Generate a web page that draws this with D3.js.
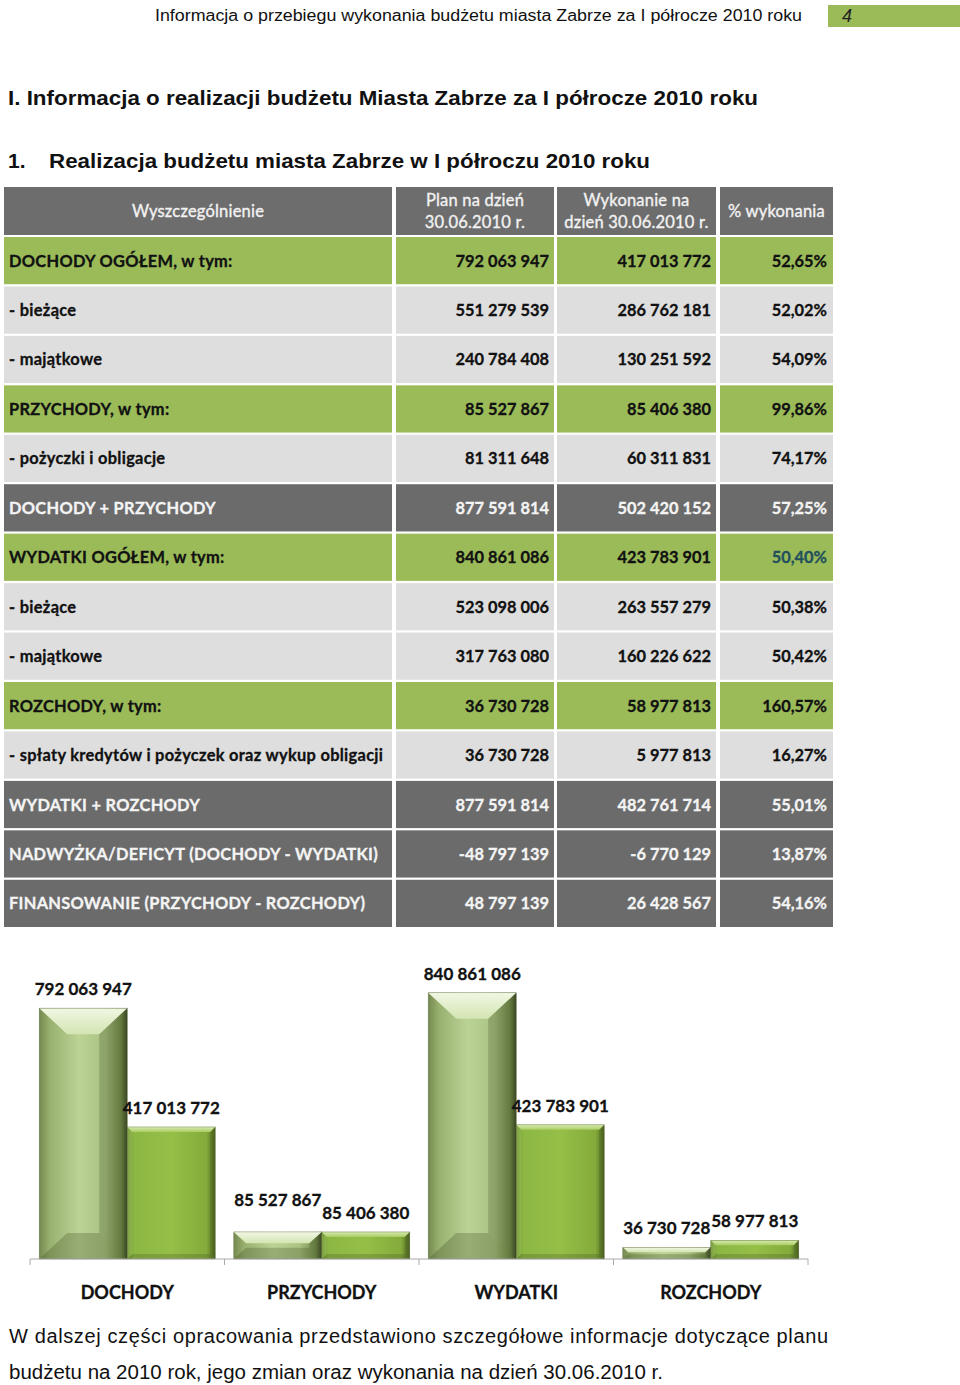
<!DOCTYPE html>
<html><head><meta charset="utf-8">
<script src="https://cdn.jsdelivr.net/npm/d3@7"></script>
<style>
html,body{margin:0;padding:0;background:#fff;}
svg{display:block;}
</style></head>
<body>
<svg id="page" width="960" height="1385"></svg>
<script>
// ---------- DATA ----------
const headerTitle = "Informacja o przebiegu wykonania budżetu miasta Zabrze za I półrocze 2010 roku";
const pageNumber = "4";
const title1 = "I. Informacja o realizacji budżetu Miasta Zabrze za I półrocze 2010 roku";
const title2Num = "1.";
const title2 = "Realizacja budżetu miasta Zabrze w I półroczu 2010 roku";
const columnHeaders = [["Wyszczególnienie"], ["Plan na dzień", "30.06.2010 r."], ["Wykonanie na", "dzień 30.06.2010 r."], ["% wykonania"]];
const rowLabels = [
  "DOCHODY OGÓŁEM, w tym:", "- bieżące", "- majątkowe", "PRZYCHODY, w tym:", "- pożyczki i obligacje",
  "DOCHODY + PRZYCHODY", "WYDATKI OGÓŁEM, w tym:", "- bieżące", "- majątkowe", "ROZCHODY, w tym:",
  "- spłaty kredytów i pożyczek oraz wykup obligacji", "WYDATKI + ROZCHODY",
  "NADWYŻKA/DEFICYT (DOCHODY - WYDATKI)", "FINANSOWANIE (PRZYCHODY - ROZCHODY)"
];
const rowKinds = ["total","sub","sub","total","sub","sum","total","sub","sub","total","sub","sum","sum","sum"];
const planColumn = [792063947, 551279539, 240784408, 85527867, 81311648, 877591814, 840861086, 523098006, 317763080, 36730728, 36730728, 877591814, -48797139, 48797139];
const execColumn = [417013772, 286762181, 130251592, 85406380, 60311831, 502420152, 423783901, 263557279, 160226622, 58977813, 5977813, 482761714, -6770129, 26428567];
const pctColumn = [52.65, 52.02, 54.09, 99.86, 74.17, 57.25, 50.40, 50.38, 50.42, 160.57, 16.27, 55.01, 13.87, 54.16];

const categories = ["DOCHODY", "PRZYCHODY", "WYDATKI", "ROZCHODY"];
const seriesNames = ["plan", "exec"];
const planSeries = [792063947, 85527867, 840861086, 36730728];
const execSeries = [417013772, 85406380, 423783901, 58977813];

const footerLine1 = "W dalszej części opracowania przedstawiono szczegółowe informacje dotyczące planu";
const footerLine2 = "budżetu na 2010 rok, jego zmian oraz wykonania na dzień 30.06.2010 r.";

// ---------- STYLE ----------
const GREEN = "#9bbb59", LIGHT = "#dedede", DARK = "#6b6b6b", HEAD = "#6d6d6d";
const narrow = "'Liberation Sans Narrow','Liberation Sans',Arial,sans-serif";
const cal = "Lato,'Open Sans',sans-serif";

const locale = d3.formatLocale({decimal: ",", thousands: " ", grouping: [3], currency: ["", ""], minus: "-"});
const fmtInt = locale.format(",d");
const fmtPct = v => locale.format(",.2f")(v) + "%";

const svg = d3.select("#page");
const defs = svg.append("defs");

// ---------- PAGE HEADER ----------
svg.append("text").attr("x", 155).attr("y", 21).attr("font-family", narrow).attr("font-size", 16)
  .attr("textLength", 647).attr("lengthAdjust", "spacingAndGlyphs").attr("fill", "#111").text(headerTitle);
svg.append("rect").attr("x", 828).attr("y", 5).attr("width", 132).attr("height", 22).attr("fill", GREEN);
svg.append("text").attr("x", 842).attr("y", 22).attr("font-family", narrow).attr("font-size", 18)
  .attr("font-style", "italic").attr("fill", "#222").text(pageNumber);

svg.append("text").attr("x", 8).attr("y", 105).attr("font-family", narrow).attr("font-size", 21).attr("font-weight", "bold")
  .attr("textLength", 750).attr("lengthAdjust", "spacingAndGlyphs").attr("fill", "#111").text(title1);
svg.append("text").attr("x", 8).attr("y", 168).attr("font-family", narrow).attr("font-size", 21).attr("font-weight", "bold")
  .attr("fill", "#111").text(title2Num);
svg.append("text").attr("x", 49).attr("y", 168).attr("font-family", narrow).attr("font-size", 21).attr("font-weight", "bold")
  .attr("textLength", 601).attr("lengthAdjust", "spacingAndGlyphs").attr("fill", "#111").text(title2);

// ---------- TABLE ----------
const colX = [[4, 392], [396, 554], [557, 716], [720, 833]];
const rowScale = d3.scaleBand().domain(d3.range(rowLabels.length)).range([237, 927]).paddingInner(0.045).paddingOuter(0);
const table = svg.append("g");

// header row
const headTop = 187, headH = 48;
colX.forEach((c, i) => {
  table.append("rect").attr("x", c[0]).attr("y", headTop).attr("width", c[1] - c[0]).attr("height", headH).attr("fill", HEAD);
  const lines = columnHeaders[i];
  const cx = (c[0] + c[1]) / 2;
  lines.forEach((ln, j) => {
    const y = lines.length === 1 ? headTop + headH / 2 + 6 : headTop + 19 + j * 22;
    table.append("text").attr("x", cx).attr("y", y).attr("text-anchor", "middle")
      .attr("font-family", cal).attr("font-size", 16.5).attr("fill", "#f2f2f2").attr("letter-spacing", 0.2)
      .attr("stroke", "#f2f2f2").attr("stroke-width", 0.35).text(ln);
  });
});

const bgFor = k => k === "total" ? GREEN : (k === "sub" ? LIGHT : DARK);
const fgFor = k => k === "sum" ? "#f4f4f4" : "#111";

rowLabels.forEach((lab, i) => {
  const y0 = rowScale(i), h = rowScale.bandwidth(), k = rowKinds[i];
  colX.forEach(c => {
    table.append("rect").attr("x", c[0]).attr("y", y0).attr("width", c[1] - c[0]).attr("height", h).attr("fill", bgFor(k));
  });
  const ty = y0 + h / 2 + 6;
  const t = (x, anchor, txt, color, ls) => table.append("text").attr("x", x).attr("y", ty).attr("text-anchor", anchor)
    .attr("font-family", cal).attr("font-size", 16.4).attr("font-weight", "bold").attr("fill", color)
    .attr("letter-spacing", ls).attr("stroke", color).attr("stroke-width", 0.3).text(txt);
  t(9, "start", lab, fgFor(k), 0.3);
  t(549, "end", fmtInt(planColumn[i]), fgFor(k), 0);
  t(711, "end", fmtInt(execColumn[i]), fgFor(k), 0);
  t(827, "end", fmtPct(pctColumn[i]), (k === "total" && i === 6) ? "#23505c" : fgFor(k), 0);
});

// ---------- CHART ----------
const baseY = 1259;
const x0 = d3.scaleBand().domain(categories).range([30, 808]).paddingInner(0).paddingOuter(0);
const x1 = d3.scaleBand().domain(seriesNames).range([0, x0.bandwidth()]).paddingInner(0).paddingOuter(0.105);
const y = d3.scaleLinear().domain([0, 900000000]).range([baseY, 974]);

function hGrad(id, stops) {
  const g = defs.append("linearGradient").attr("id", id).attr("x1", 0).attr("x2", 1).attr("y1", 0).attr("y2", 0);
  stops.forEach(s => g.append("stop").attr("offset", s[0]).attr("stop-color", s[1]));
}
function vGrad(id, stops) {
  const g = defs.append("linearGradient").attr("id", id).attr("x1", 0).attr("x2", 0).attr("y1", 0).attr("y2", 1);
  stops.forEach(s => g.append("stop").attr("offset", s[0]).attr("stop-color", s[1]));
}
hGrad("planBody", [[0, "#74894f"], [0.12, "#98b06f"], [0.45, "#bcd396"], [0.75, "#a9c282"], [0.93, "#738c4a"], [1, "#3f4c28"]]);
hGrad("execBody", [[0, "#6f962c"], [0.08, "#8cb743"], [0.5, "#95bf47"], [0.9, "#84ab3b"], [1, "#506a1f"]]);
vGrad("planTop", [[0, "#f1f7e3"], [1, "#d3e5b2"]]);
vGrad("execTop", [[0, "#d8ebb0"], [1, "#a9cd64"]]);

const bars = [];
categories.forEach((c, i) => {
  bars.push({cat: c, s: "plan", v: planSeries[i]});
  bars.push({cat: c, s: "exec", v: execSeries[i]});
});

const chart = svg.append("g");
bars.forEach(d => {
  const bx = x0(d.cat) + x1(d.s), bw = x1.bandwidth();
  const top = y(d.v), h = baseY - top;
  const isPlan = d.s === "plan";
  const bev = isPlan ? Math.min(26, h / 2.4) : Math.min(5, h / 3);
  const bevX = isPlan ? Math.min(28, bw / 2.2, bev * 1.1) : bev;
  const g = chart.append("g");
  g.append("rect").attr("x", bx).attr("y", top).attr("width", bw).attr("height", h)
    .attr("fill", `url(#${isPlan ? "planBody" : "execBody"})`);
  const L = bx, R = bx + bw, T = top, B = baseY;
  const poly = (pts, fill, op) => g.append("polygon").attr("points", pts.map(p => p.join(",")).join(" "))
    .attr("fill", fill).attr("opacity", op);
  poly([[L, T], [R, T], [R - bevX, T + bev], [L + bevX, T + bev]], `url(#${isPlan ? "planTop" : "execTop"})`, 1);
  poly([[L + bevX, B - bev], [R - bevX, B - bev], [R, B], [L, B]], "#3e4d22", isPlan ? 0.28 : 0.25);
  poly([[L, T], [L + bevX, T + bev], [L + bevX, B - bev], [L, B]], "#ffffff", isPlan ? 0.0 : 0.1);
  poly([[R, T], [R, B], [R - bevX, B - bev], [R - bevX, T + bev]], "#2c3818", isPlan ? 0.22 : 0.18);
  g.append("rect").attr("x", bx).attr("y", top).attr("width", bw).attr("height", h)
    .attr("fill", "none").attr("stroke", "#4a5a2c").attr("stroke-width", 0.6).attr("stroke-opacity", 0.6);
  d.lx = bx + bw / 2; d.ly = top - 13;
});

// labels (raise the first label of a pair when both sit at the same height)
categories.forEach(c => {
  const pair = bars.filter(b => b.cat === c);
  if (Math.abs(pair[0].ly - pair[1].ly) < 2) pair[0].ly -= 13;
});
bars.forEach(d => {
  chart.append("text").attr("x", d.lx).attr("y", d.ly).attr("text-anchor", "middle")
    .attr("font-family", cal).attr("font-size", 17).attr("font-weight", "bold").attr("fill", "#111")
    .attr("stroke", "#111").attr("stroke-width", 0.3).text(fmtInt(d.v));
});

// axis
const axis = d3.axisBottom(x0).tickSize(6).tickFormat("");
const axG = chart.append("g").attr("transform", `translate(0,${baseY})`).call(axis);
axG.selectAll(".tick").remove();
axG.select(".domain").attr("stroke", "#aaa").attr("d", `M30,0H808`);
const bounds = [30].concat(categories.map(c => x0(c) + x0.bandwidth()));
bounds.forEach(bx => chart.append("line").attr("x1", bx).attr("x2", bx).attr("y1", baseY).attr("y2", baseY + 6).attr("stroke", "#aaa"));

categories.forEach(c => {
  chart.append("text").attr("x", x0(c) + x0.bandwidth() / 2).attr("y", 1299).attr("text-anchor", "middle")
    .attr("font-family", cal).attr("font-size", 18).attr("font-weight", "bold").attr("fill", "#111")
    .attr("stroke", "#111").attr("stroke-width", 0.3).text(c);
});

// ---------- FOOTER ----------
svg.append("text").attr("x", 9).attr("y", 1343).attr("font-family", narrow).attr("font-size", 20)
  .attr("textLength", 819).attr("lengthAdjust", "spacing").attr("fill", "#111").text(footerLine1);
svg.append("text").attr("x", 9).attr("y", 1379).attr("font-family", narrow).attr("font-size", 20)
  .attr("textLength", 654).attr("lengthAdjust", "spacingAndGlyphs").attr("fill", "#111").text(footerLine2);
</script>
</body></html>
